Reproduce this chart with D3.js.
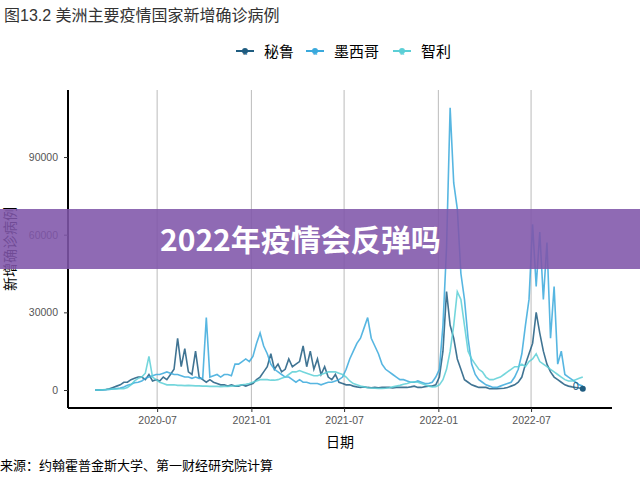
<!DOCTYPE html>
<html><head><meta charset="utf-8">
<script src="https://cdn.jsdelivr.net/npm/d3@7"></script>
<style>body{margin:0;background:#fff}svg{display:block;font-family:"Liberation Sans","Noto Sans CJK SC",sans-serif}</style>
</head><body><svg id="c" width="640" height="480"></svg>
<script>
// weekly new cases, thousands, starting 2020-03-02
const startDate = '2020-03-02';
const peru = [0,0,0.1,0.2,0.5, 1,1.5,2,3, 3,4,4.5,5, 5,4,6,3.5,4, 3.5,5,4,6, 8,20,9,16,7, 6,15,5,4, 3,4,3,2.5, 2,2,1.5,2,1.5, 1.5,2,1.5,2,
  2.5,4,5,7, 9,14,8,10,7, 8,12,9,10, 11,17,9,15, 8,12,6,9,5, 4,6,3,2.5, 2,2,1.5,1.2, 1,1.2,1,0.9,1, 0.9,1,1,1, 0.8,1,1,1, 1,1.2,1.5,1,1, 1.3,1.5,1.5,2,
  5,15,38,25,20, 12,8,4,3, 2,1.5,1,1, 1,0.5,0.5,0.5, 0.6,0.7,1,1.5,2, 3,5,10,14, 18,30,22,15, 10,7,5,4,3, 2,1.5,1.2,1, 0.8,0.5];
const mexico = [0,0,0,0.1,0.2, 0.4,0.6,0.8,1.2, 1.8,2.2,2.8,3, 3.5,4.5,5,5.5,6, 6,6.5,7,6.5, 6,6,5.5,5,5, 4.5,5,4.5,4.5, 28,5,5.5,6, 5,6,6,5.5,10, 10,11,12,11,
  13,18,22,17, 14,10,8,7,6, 5,5,4,3, 4,3,3,2.5, 2.5,2.5,2,2.5,3, 3,3.5,4,5, 8,12,15,18, 20,24,28,20,17, 14,10,8,7, 6,5,4,4, 3.5,3,3,3.5,3, 2.5,2.5,3,5,
  8,25,55,109,80, 70,45,35,20, 10,6,4,3, 2,1.5,1,1, 1.5,2,2.5,3,5, 8,14,25,35, 64,40,61,35, 57,20,40,10,15, 6,5,4,3, 2,1.5];
const chile = [0,0,0.1,0.2,0.3, 0.4,0.4,0.5,0.5, 1,2,3.5,4.5, 5,6.5,13,5,4, 3,2.5,2,2, 2,1.8,1.8,1.7,1.8, 1.7,1.6,1.6,1.5, 1.5,1.4,1.4,1.4, 1.3,1.4,1.4,1.5,1.6, 1.8,2,2.2,2.5,
  3,3.5,4,4, 4,3.8,3.8,4,4.5, 5,6,7,7, 7.5,7,6.5,6, 5.5,5.5,6,6.5,7, 7,7,6.5,6, 5,3.5,2.5,2, 1.5,1.2,0.9,0.8,0.7, 0.6,0.6,0.7,0.9, 1.2,1.5,1.8,2.2, 2.5,3,3.2,3,2.5, 2,1.5,1.2,1.3,
  2,4,8,15,25, 38,35,25,15, 12,10,8,7, 5,4,4,4.5, 5,6,7,8,9, 9,10,9,11, 12,14,11,10, 9,8,7,6,5, 4,3.5,3.5,4, 4.5,5];
const seriesNames = ['秘鲁','墨西哥','智利'];
const seriesColors = ['#1f5c80','#3aa9dc','#5ccfd6'];
const yTicks = [0,30000,60000,90000];
const xTicks = ['2020-07','2021-01','2021-07','2022-01','2022-07'];

const svg = d3.select('#c');
const parse = d3.timeParse('%Y-%m-%d');
const t0 = parse(startDate);
const x = d3.scaleTime().domain([parse('2020-01-09'), parse('2022-12-06')]).range([68, 612]);
const y = d3.scaleLinear().domain([-6950, 115900]).range([408, 90]);

svg.append('text').attr('x',4).attr('y',21).attr('font-size',16).attr('fill','#333').text('图13.2 美洲主要疫情国家新增确诊病例');

// grid
const xt = xTicks.map(d => d3.timeParse('%Y-%m')(d));
svg.append('g').selectAll('line').data(xt).join('line')
  .attr('x1',d=>x(d)).attr('x2',d=>x(d)).attr('y1',90).attr('y2',408)
  .attr('stroke','#bbb').attr('stroke-width',1);

const line = d3.line().x((d,i)=>x(d3.timeDay.offset(t0,7*i))).y(d=>y(d*1000));
[peru, mexico, chile].forEach((s,k)=>{
  svg.append('path').datum(s).attr('d',line).attr('fill','none')
    .attr('stroke',seriesColors[k]).attr('stroke-width',1.6).attr('opacity',0.85);
});
svg.append('circle').attr('cx',x(d3.timeDay.offset(t0,7*(peru.length-1)))).attr('cy',y(peru[peru.length-1]*1000)).attr('r',3).attr('fill',seriesColors[0]);
svg.append('text').attr('x',x(d3.timeDay.offset(t0,7*(peru.length-1)))-10).attr('y',y(0)).attr('font-size',11).attr('fill',seriesColors[0]).text('0');

// axes
const ya = svg.append('g').attr('transform','translate(68,0)')
  .call(d3.axisLeft(y).tickValues(yTicks).tickFormat(d3.format('d')).tickSize(4).tickPadding(6));
const xa = svg.append('g').attr('transform','translate(0,408)')
  .call(d3.axisBottom(x).tickValues(xt).tickFormat(d3.timeFormat('%Y-%m')).tickSize(4).tickPadding(5));
[ya,xa].forEach(g=>{
  g.select('.domain').attr('stroke','#000').attr('stroke-width',2);
  g.selectAll('.tick line').attr('stroke','#333');
  g.selectAll('.tick text').attr('fill','#555').attr('font-size',10.5);
});
ya.select('.domain').attr('d','M0,90V408');
xa.select('.domain').attr('d','M68,0H612');

svg.append('text').attr('x',340).attr('y',447).attr('text-anchor','middle').attr('font-size',14).text('日期');
svg.append('text').attr('transform','translate(15,249) rotate(-90)').attr('text-anchor','middle').attr('font-size',14).text('新增确诊病例');
svg.append('text').attr('x',0).attr('y',470).attr('font-size',13).text('来源：约翰霍普金斯大学、第一财经研究院计算');

// legend
const lg = svg.append('g');
const lx = [236,306,393];
seriesNames.forEach((n,k)=>{
  const g = lg.append('g').attr('transform',`translate(${lx[k]},51)`);
  g.append('line').attr('x1',0).attr('x2',18).attr('stroke',seriesColors[k]).attr('stroke-width',2);
  g.append('circle').attr('cx',9).attr('r',3).attr('fill',seriesColors[k]);
  g.append('text').attr('x',9).attr('y',4).attr('text-anchor','middle').attr('font-size',7).attr('fill',seriesColors[k]).text('a');
  g.append('text').attr('x',28).attr('y',6).attr('font-size',15).text(n);
});

// banner
svg.append('rect').attr('x',0).attr('y',209).attr('width',640).attr('height',60).attr('fill','#7f55aa').attr('opacity',0.88);
svg.append('text').attr('x',160).attr('y',251).attr('font-size',30).attr('font-weight','bold').attr('fill','#fff')
  .attr('font-family','"Noto Sans CJK SC",sans-serif').text('2022年疫情会反弹吗');
</script></body></html>
